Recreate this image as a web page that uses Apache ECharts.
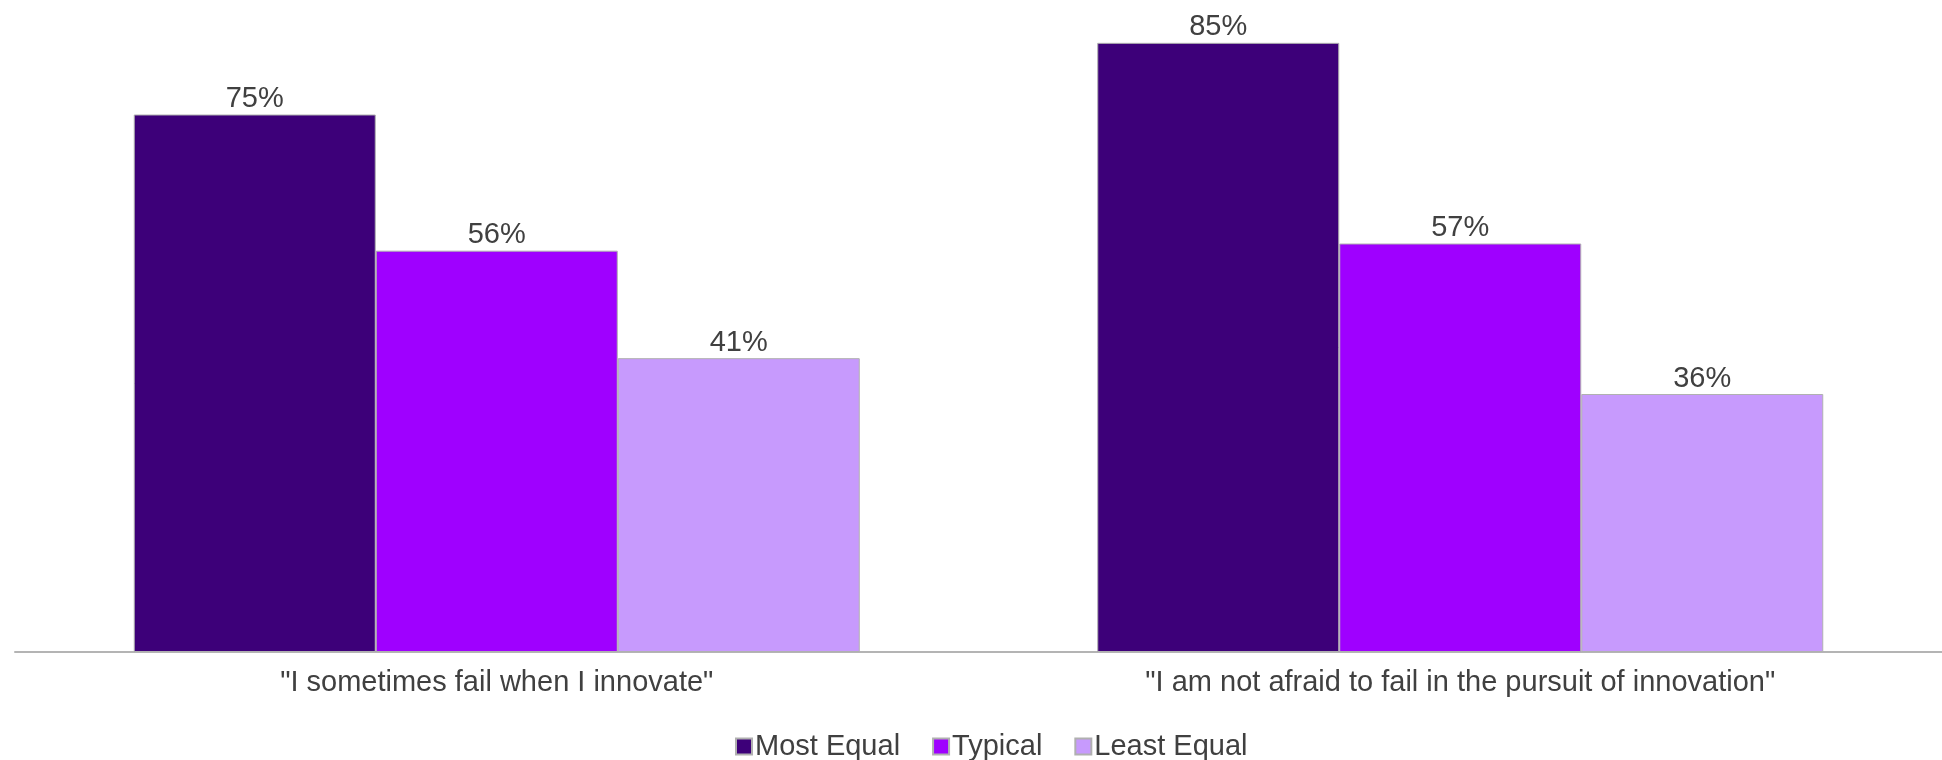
<!DOCTYPE html>
<html>
<head>
<meta charset="utf-8">
<script src="https://cdn.jsdelivr.net/npm/echarts@6/dist/echarts.min.js"></script>
<style>
html,body{margin:0;padding:0;background:#fff;}
#chart{width:1942px;height:760px;}
</style>
</head>
<body>
<div id="chart"></div>
<script>
const categories = ['"I sometimes fail when I innovate"', '"I am not afraid to fail in the pursuit of innovation"'];
const seriesNames = ['Most Equal', 'Typical', 'Least Equal'];
const mostEqual = [75, 85];
const typical = [56, 57];
const leastEqual = [41, 36];
const colors = ['#3d0079', '#9f00ff', '#c79afd'];

const dataSets = [mostEqual, typical, leastEqual];
const FONT = '"Liberation Sans", Arial, sans-serif';

const chart = echarts.init(document.getElementById('chart'), null, {renderer: 'canvas'});
chart.setOption({
  animation: false,
  backgroundColor: '#ffffff',
  color: colors,
  grid: {left: 15, right: 0, top: 7, bottom: 108, containLabel: false},
  legend: {
    data: seriesNames,
    left: 730,
    top: 727,
    itemWidth: 16,
    itemHeight: 16,
    itemGap: 32,
    icon: 'rect',
    textStyle: {fontFamily: FONT, fontSize: 29, color: '#404040', padding: [0, 0, 0, -2]}
  },
  xAxis: {
    type: 'category',
    data: categories,
    axisLine: {lineStyle: {color: '#b4b4b4', width: 2}},
    axisTick: {show: false},
    axisLabel: {fontFamily: FONT, fontSize: 29, color: '#404040', margin: 16}
  },
  yAxis: {
    type: 'value',
    min: 0,
    max: 90,
    show: false,
    splitLine: {show: false}
  },
  series: dataSets.map((d, i) => ({
    name: seriesNames[i],
    type: 'bar',
    data: d,
    barGap: '0%',
    barWidth: 242,
    itemStyle: {color: colors[i], borderColor: '#b0b0b0', borderWidth: 1},
    label: {
      show: true,
      position: 'top',
      distance: 1,
      formatter: '{c}%',
      fontFamily: FONT,
      fontSize: 29,
      color: '#404040'
    }
  }))
});
</script>
</body>
</html>
